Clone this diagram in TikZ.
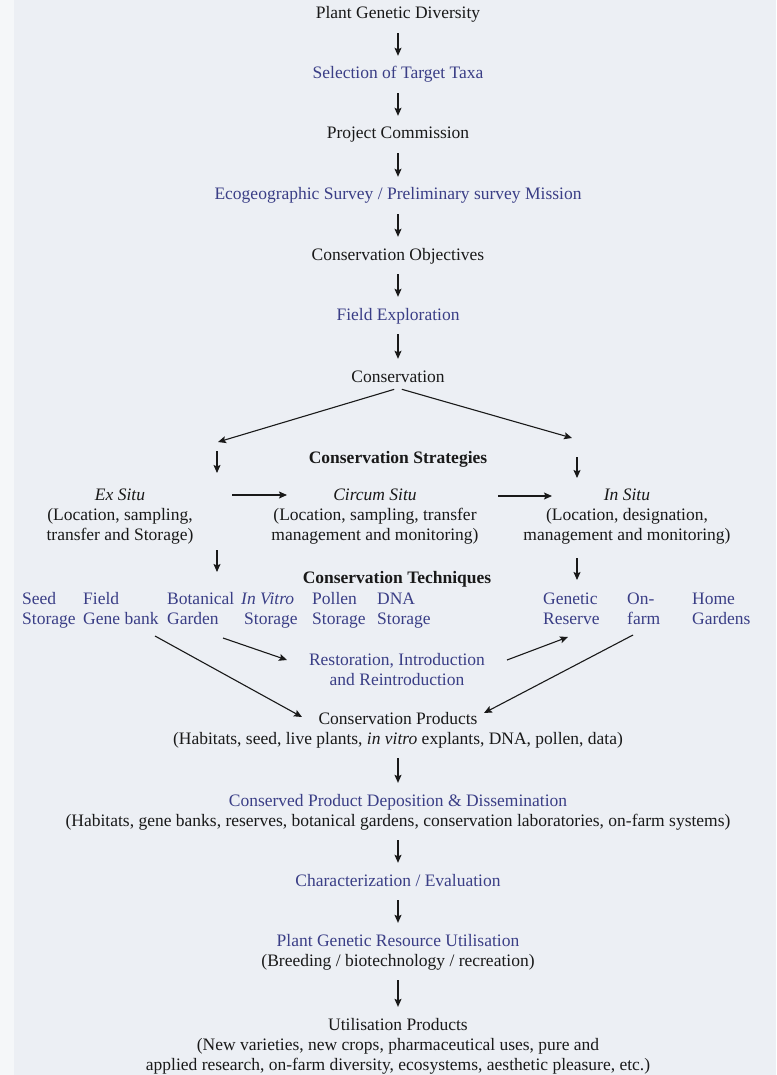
\documentclass[tikz,border=0pt]{standalone}
\usepackage{fontspec}
\setmainfont{Liberation Serif}
\usetikzlibrary{arrows.meta}
\definecolor{bgcol}{RGB}{236,239,244}
\definecolor{inkblk}{RGB}{25,25,25}
\definecolor{inkblu}{RGB}{58,62,134}

\begin{document}
\begin{tikzpicture}[x=1pt,y=-1pt,
    txt/.style={inner sep=2pt,font=\fontsize{17.5}{20}\selectfont},
    one/.style={txt,text height=12pt,text depth=4pt},
    blk/.style={text=inkblk},
    blu/.style={text=inkblu},
    arr/.style={inkblk,line width=1.1pt,-{Stealth[length=8pt,width=7pt,inset=1.5pt]}},
    flow/.style={arr,shorten <=8pt,shorten >=9pt}]
                \fill[bgcol] (0,0) rectangle (776,1075);
                \fill[white,opacity=0.5] (0,0) rectangle (14,1075);
                \useasboundingbox (0,0) rectangle (776,1075);
                % main chain down to Conservation
                \node[one,blk] (pgd) at (398,15) {Plant Genetic Diversity};
                \node[one,blu] (sel) at (398,75) {Selection of Target Taxa};
                \node[one,blk] (proj) at (398,135) {Project Commission};
                \node[one,blu] (eco) at (398,196) {Ecogeographic Survey / Preliminary survey Mission};
                \node[one,blk] (obj) at (398,256) {Conservation Objectives};
                \node[one,blu] (fld) at (398,316) {Field Exploration};
                \node[one,blk] (cons) at (398,378) {Conservation};
                \draw[flow] (pgd) -- (sel);
                \draw[flow] (sel) -- (proj);
                \draw[flow] (proj) -- (eco);
                \draw[flow] (eco) -- (obj);
                \draw[flow] (obj) -- (fld);
                \draw[flow] (fld) -- (cons);
                % strategies
                \node[one,blk,font=\fontsize{17.5}{20}\selectfont\bfseries] (strat) at (398,459) {Conservation Strategies};
                \node[txt,blk,align=center] (exsitu) at (120,517) {\textit{Ex Situ}\\(Location, sampling,\\transfer and Storage)};
                \node[txt,blk,align=center] (circum) at (375,517) {\textit{Circum Situ}\\(Location, sampling, transfer\\management and monitoring)};
                \node[txt,blk,align=center] (insitu) at (627,517) {\textit{In Situ}\\(Location, designation,\\management and monitoring)};
                \coordinate (exhead) at (218,442);
                \coordinate (inhead) at (572,438);
                \draw[arr,shorten <=4pt] (cons.south) -- (exhead);
                \draw[arr,shorten <=4pt] (cons.south) -- (inhead);
                \coordinate (exa) at (217,451);
                \coordinate (exb) at (217,473);
                \coordinate (ina) at (577,457);
                \coordinate (inb) at (577,478);
                \draw[arr] (exa) -- (exb);
                \draw[arr] (ina) -- (inb);
                \coordinate (hoa) at (232,495);
                \coordinate (hob) at (287,495);
                \coordinate (hta) at (498,496);
                \coordinate (htb) at (552,496);
                \draw[arr] (hoa) -- (hob);
                \draw[arr] (hta) -- (htb);
                \coordinate (exc) at (217,550);
                \coordinate (exd) at (217,572);
                \coordinate (inc) at (577,558);
                \coordinate (ind) at (577,580);
                \draw[arr] (exc) -- (exd);
                \draw[arr] (inc) -- (ind);
                % techniques
                \node[one,blk,font=\fontsize{17.5}{20}\selectfont\bfseries] (tech) at (397,579) {Conservation Techniques};
                \node[txt,blu,align=left,anchor=west] (seed) at (20,610) {Seed\strut\\Storage\strut};
                \node[txt,blu,align=left,anchor=west] (field) at (81,610) {Field\strut\\Gene bank\strut};
                \node[txt,blu,align=left,anchor=west] (botan) at (165,610) {Botanical\strut\\Garden\strut};
                \node[txt,blu,align=left,anchor=west] (vitro) at (239,610) {\textit{In Vitro}\strut\\\hspace*{3pt}Storage\strut};
                \node[txt,blu,align=left,anchor=west] (pollen) at (310,610) {Pollen\strut\\Storage\strut};
                \node[txt,blu,align=left,anchor=west] (dna) at (375,610) {DNA\strut\\Storage\strut};
                \node[txt,blu,align=left,anchor=west] (genres) at (541,610) {Genetic\strut\\Reserve\strut};
                \node[txt,blu,align=left,anchor=west] (onfarm) at (625,610) {On-\strut\\farm\strut};
                \node[txt,blu,align=left,anchor=west] (home) at (690,610) {Home\strut\\Gardens\strut};
                \node[txt,blu,align=center] (resto) at (397,670) {Restoration, Introduction\\and Reintroduction};
                % products and use
                \node[txt,blk,align=center] (cprod) at (398,730) {Conservation Products\\(Habitats, seed, live plants, \textit{in vitro} explants, DNA, pollen, data)};
                \coordinate (gbtail) at (155,636);
                \coordinate (gbhead) at (302,717);
                \coordinate (bgtail) at (223,638);
                \coordinate (bghead) at (287,660);
                \coordinate (rstail) at (507,660);
                \coordinate (rshead) at (568,637);
                \coordinate (oftail) at (633,635);
                \coordinate (ofhead) at (484,713);
                \draw[arr] (gbtail) -- (gbhead);
                \draw[arr] (bgtail) -- (bghead);
                \draw[arr] (rstail) -- (rshead);
                \draw[arr] (oftail) -- (ofhead);
                \node[txt,blk,align=center] (depo) at (398,812) {{\color{inkblu}Conserved Product Deposition \& Dissemination}\\(Habitats, gene banks, reserves, botanical gardens, conservation laboratories, on-farm systems)};
                \node[one,blu] (chara) at (398,882) {Characterization / Evaluation};
                \node[txt,blk,align=center] (pgru) at (398,952) {{\color{inkblu}Plant Genetic Resource Utilisation}\\(Breeding / biotechnology / recreation)};
                \node[txt,blk,align=center] (util) at (398,1046) {Utilisation Products\\(New varieties, new crops, pharmaceutical uses, pure and\\applied research, on-farm diversity, ecosystems, aesthetic pleasure, etc.)};
                \draw[flow] (cprod) -- (depo);
                \draw[flow] (depo) -- (chara);
                \draw[flow] (chara) -- (pgru);
                \draw[flow] (pgru) -- (util);
            \end{tikzpicture}
\end{document}
